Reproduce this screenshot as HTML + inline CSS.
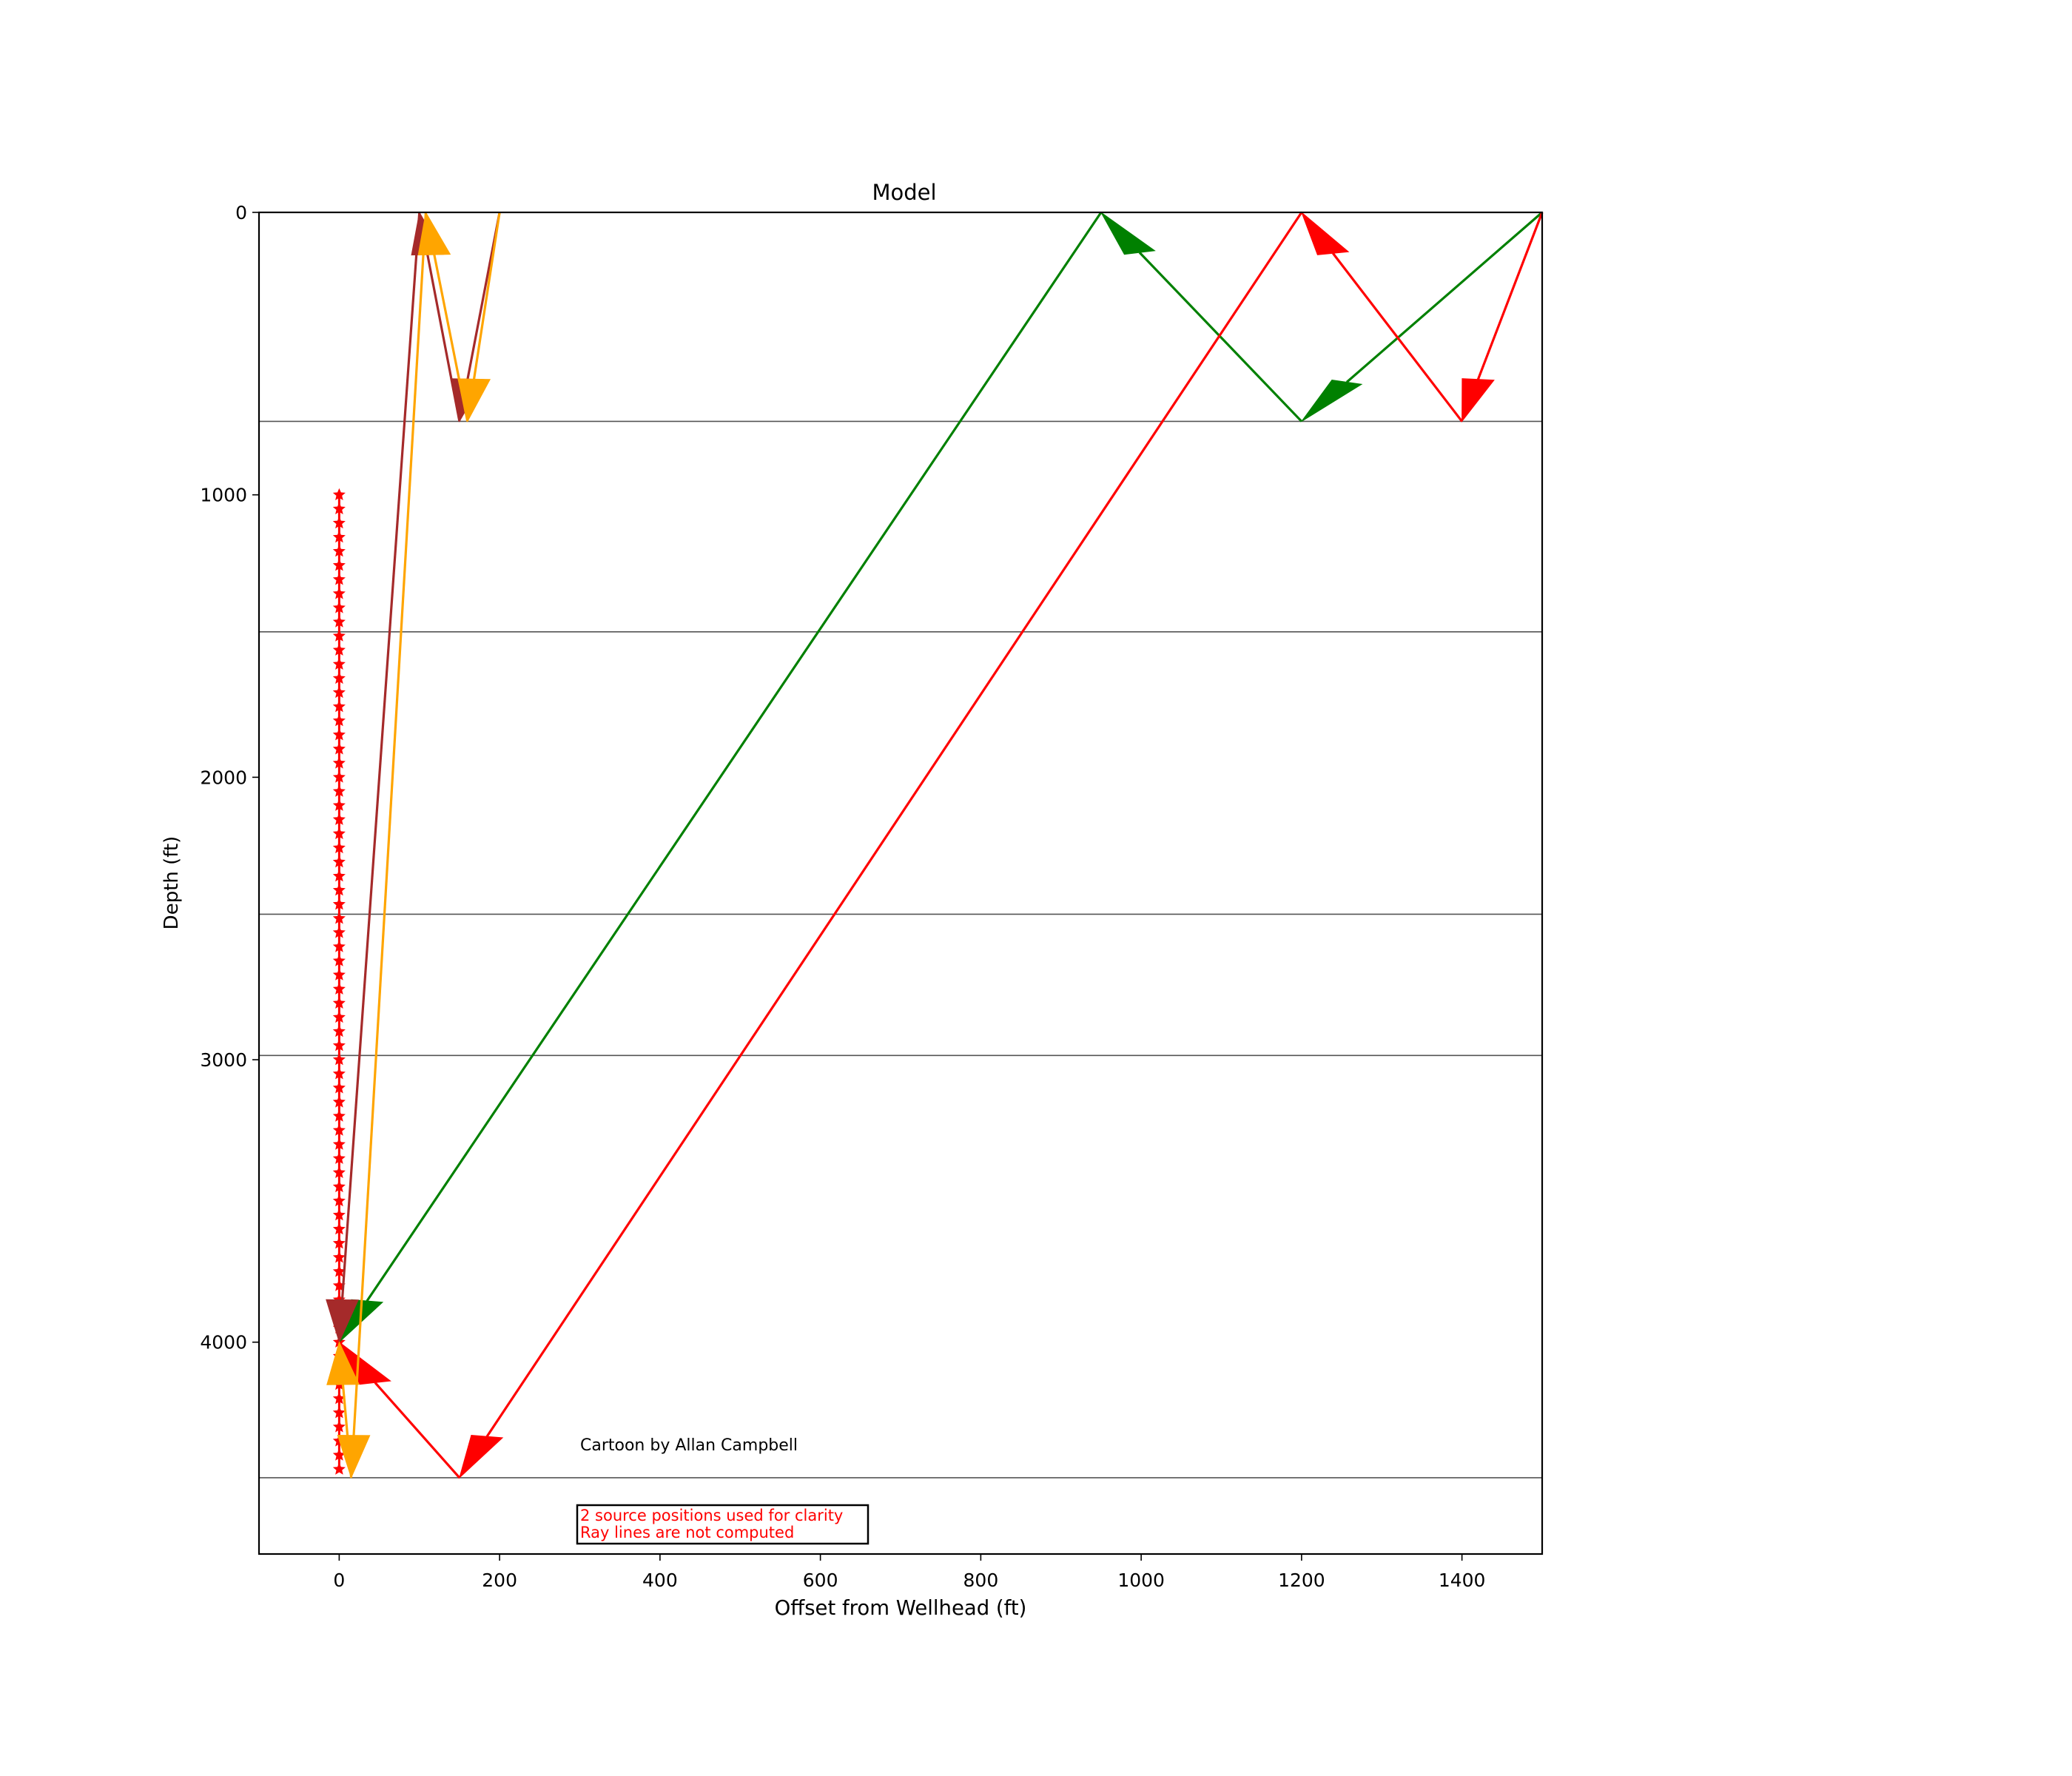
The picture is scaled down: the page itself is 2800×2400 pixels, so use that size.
<!DOCTYPE html>
<html><head><meta charset="utf-8"><style>
html,body{margin:0;padding:0;background:#fff}
svg{display:block}
text{font-family:"DejaVu Sans","Liberation Sans",sans-serif}
</style></head><body>
<svg id="chart" width="2800" height="2400" viewBox="0 0 2800 2400" xmlns="http://www.w3.org/2000/svg">
<rect width="2800" height="2400" fill="#fff"/>
<g id="layers"></g>
<g id="stars"></g>
<g id="rays"></g>
<rect x="350" y="287" width="1734" height="1813" fill="none" stroke="#000" stroke-width="2.2"/>
<g id="xticks"></g>
<g id="yticks"></g>
<text x="1222" y="270" font-size="29" text-anchor="middle">Model</text>
<text x="1217" y="2182" font-size="27.5" text-anchor="middle">Offset from Wellhead (ft)</text>
<text transform="translate(240,1193) rotate(-90)" font-size="26" text-anchor="middle">Depth (ft)</text>
<text x="784" y="1960" font-size="22">Cartoon by Allan Campbell</text>
<rect x="780" y="2034" width="393" height="52" fill="none" stroke="#000" stroke-width="2.5"/>
<text x="784" y="2055" font-size="21" fill="red">2 source positions used for clarity</text>
<text x="784" y="2078" font-size="21" fill="red">Ray lines are not computed</text>
</svg>
<script>
const xTicks = [0, 200, 400, 600, 800, 1000, 1200, 1400];
const yTicks = [0, 1000, 2000, 3000, 4000];
const layerDepths = [740, 1485, 2485, 2985, 4480];
const receiverTop = 1000, receiverBottom = 4450, receiverStep = 50;
const brownPath = [[200,0],[150,740],[100,0],[0,4000]];
const orangePath = [[200,0],[160,740],[108,0],[15,4480],[0,4000]];
const greenPath = [[1500,0],[1200,740],[950,0],[0,4000]];
const redPath = [[1500,0],[1400,740],[1200,0],[150,4480],[0,4000]];

const X0=350,X1=2084,Y0=287,Y1=2100,XMIN=-100,XMAX=1500,YMIN=0,YMAX=4750;
const sx=v=>X0+(v-XMIN)/(XMAX-XMIN)*(X1-X0);
const sy=v=>Y0+(v-YMIN)/(YMAX-YMIN)*(Y1-Y0);
const NS="http://www.w3.org/2000/svg";
function mk(tag,attrs,parent){const e=document.createElementNS(NS,tag);for(const k in attrs)e.setAttribute(k,attrs[k]);parent.appendChild(e);return e;}

const lay=document.getElementById('layers');
layerDepths.forEach(d=>{
  const l=mk('line',{x1:X0,x2:X1,y1:sy(d),y2:sy(d),stroke:'#555',"stroke-width":1.6},lay);
  
  
});

const st=document.getElementById('stars');
const sl=mk('line',{x1:sx(0),x2:sx(0),y1:sy(receiverTop),y2:sy(receiverBottom),stroke:'red',"stroke-width":3},st);


function starPts(cx,cy,r){let p=[];for(let i=0;i<10;i++){const a=-Math.PI/2+i*Math.PI/5;const rr=i%2?r*0.45:r;p.push((cx+rr*Math.cos(a)).toFixed(1)+','+(cy+rr*Math.sin(a)).toFixed(1));}return p.join(' ');}
for(let d=receiverTop;d<=receiverBottom+0.1;d+=receiverStep){
  const s=mk('polygon',{points:starPts(sx(0),sy(d),9),fill:'red'},st);
  
  
}

const rays=document.getElementById('rays');
const HL=150, HW=40;
function drawPath(path,color,name){
  for(let i=0;i<path.length-1;i++){
    const [ax,ay]=path[i],[bx,by]=path[i+1];
    const dx=bx-ax,dy=by-ay,len=Math.hypot(dx,dy),ux=dx/len,uy=dy/len;
    const bcx=bx-ux*HL,bcy=by-uy*HL,px=-uy,py=ux;
    const ln=mk('line',{x1:sx(ax),y1:sy(ay),x2:sx(bcx),y2:sy(bcy),stroke:color,"stroke-width":3.2},rays);
    
    
    const pts=[[bx,by],[bcx+px*HW/2,bcy+py*HW/2],[bcx-px*HW/2,bcy-py*HW/2]].map(p=>sx(p[0]).toFixed(1)+','+sy(p[1]).toFixed(1)).join(' ');
    const h=mk('polygon',{points:pts,fill:color,stroke:color,"stroke-width":1},rays);
    
    
  }
}
drawPath(greenPath,'green','green-ray');
drawPath(redPath,'red','red-ray');
drawPath(brownPath,'#a52a2a','brown-ray');
drawPath(orangePath,'orange','orange-ray');

const xt=document.getElementById('xticks');
xTicks.forEach(v=>{
  const t=mk('line',{x1:sx(v),x2:sx(v),y1:Y1,y2:Y1+9,stroke:'#000',"stroke-width":1.6},xt);
  
  
  const tx=mk('text',{x:sx(v),y:Y1+44,"font-size":25,"text-anchor":"middle"},xt);
  tx.textContent=v;
  
  
});
const yt=document.getElementById('yticks');
yTicks.forEach(v=>{
  const t=mk('line',{x1:X0-9,x2:X0,y1:sy(v),y2:sy(v),stroke:'#000',"stroke-width":1.6},yt);
  
  
  const tx=mk('text',{x:X0-16,y:sy(v)+9,"font-size":25,"text-anchor":"end"},yt);
  tx.textContent=v;
  
  
});
</script>
</body></html>
